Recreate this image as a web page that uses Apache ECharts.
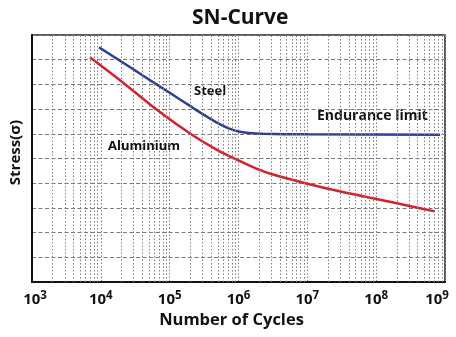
<!DOCTYPE html>
<html>
<head>
<meta charset="utf-8">
<script src="https://cdn.jsdelivr.net/npm/echarts@6/dist/echarts.min.js"></script>
<style>html,body{margin:0;padding:0;background:#fff}#c{width:456px;height:337px}</style>
</head>
<body>
<div id="c"></div>
<script>
// ---- data ----
const steelCycles = [9400, 20000, 50000, 100000, 200000, 238000, 355000, 500000, 708000, 1000000, 1410000, 2240000, 10000000, 850000000];
const steelStress = [9.50, 8.92, 8.20, 7.66, 7.12, 6.98, 6.68, 6.43, 6.23, 6.09, 6.03, 6.00, 5.98, 5.96];
const aluCycles = [6930, 20000, 63000, 200000, 500000, 1000000, 1780000, 3160000, 10000000, 31600000, 100000000, 316000000, 716000000];
const aluStress = [9.10, 8.12, 7.00, 6.00, 5.33, 4.92, 4.60, 4.35, 3.98, 3.65, 3.36, 3.07, 2.86];
const minorGridCycles = [];
[1e3, 1e4, 1e5, 1e6, 1e7, 1e8].forEach(function (d) { for (let k = 2; k <= 9; k++) minorGridCycles.push(k * d); });
const decadeExponents = [3, 4, 5, 6, 7, 8, 9];

const chart = echarts.init(document.getElementById('c'), null, {renderer: 'canvas'});
const FONT = '"Open Sans", "Noto Sans", sans-serif';
const BLUE = '#2f3f97';
const RED = '#d8202c';

chart.setOption({
  animation: false,
  title: {
    text: 'SN-Curve', left: 187, top: 3,
    textStyle: {fontFamily: FONT, fontWeight: 'bold', fontSize: 21, color: '#111'}
  },
  grid: {left: 31, right: 11, top: 35, bottom: 55, show: true, borderColor: '#222', borderWidth: 1.5},
  xAxis: {
    type: 'log', logBase: 10, min: 1000, max: 1e9, interval: 1,
    name: 'Number of Cycles', nameLocation: 'middle', nameGap: 27,
    nameTextStyle: {fontFamily: FONT, fontWeight: 'bold', fontSize: 16.5, color: '#111', padding: [0, 14, 0, 0]},
    axisLine: {lineStyle: {color: '#111', width: 2}},
    axisTick: {show: false},
    splitLine: {show: true, lineStyle: {type: [1.5, 2], color: '#808080', width: 1}},
    axisLabel: {
      margin: 8,
      formatter: function (v) {
        const e = Math.round(Math.log10(v));
        if (e === decadeExponents[0]) return '{al|10}{sl|' + e + '}';
        if (e === decadeExponents[decadeExponents.length - 1]) return '{ar|10}{sr|' + e + '}';
        return '{a|10}{s|' + e + '}';
      },
      rich: {
        a: {fontFamily: FONT, fontWeight: 'bold', fontSize: 15, color: '#111'},
        s: {fontFamily: FONT, fontWeight: 'bold', fontSize: 11.5, color: '#111', padding: [0, 0, 7, 0]},
        al: {fontFamily: FONT, fontWeight: 'bold', fontSize: 15, color: '#111', padding: [0, 0, 0, 6]},
        sl: {fontFamily: FONT, fontWeight: 'bold', fontSize: 11.5, color: '#111', padding: [0, 0, 7, 0]},
        ar: {fontFamily: FONT, fontWeight: 'bold', fontSize: 15, color: '#111'},
        sr: {fontFamily: FONT, fontWeight: 'bold', fontSize: 11.5, color: '#111', padding: [0, 16, 7, 0]}
      }
    }
  },
  yAxis: {
    type: 'value', min: 0, max: 10, interval: 1,
    name: 'Stress(σ)', nameLocation: 'middle', nameGap: 9, nameRotate: 90,
    nameTextStyle: {fontFamily: FONT, fontWeight: 'bold', fontSize: 15, color: '#111', padding: [0, 0, 0, 12]},
    axisLine: {show: true, lineStyle: {color: '#111', width: 2}},
    axisTick: {show: false},
    axisLabel: {show: false},
    splitLine: {show: true, lineStyle: {type: [4, 2.5], color: '#7a7a7a', width: 1}}
  },
  graphic: [
    {type: 'text', left: 194, top: 85, style: {text: 'Steel', fontFamily: FONT, fontWeight: 'bold', fontSize: 13, fill: '#111'}},
    {type: 'text', left: 108, top: 140, style: {text: 'Aluminium', fontFamily: FONT, fontWeight: 'bold', fontSize: 13, fill: '#111'}},
    {type: 'text', left: 317, top: 109, style: {text: 'Endurance limit', fontFamily: FONT, fontWeight: 'bold', fontSize: 14, fill: '#111'}}
  ],
  series: [
    {
      type: 'line', name: 'grid', silent: true, data: [],
      markLine: {
        silent: true, symbol: ['none', 'none'], label: {show: false},
        lineStyle: {type: [1.5, 2], color: '#808080', width: 1},
        emphasis: {disabled: true},
        data: minorGridCycles.map(function (n) { return {xAxis: n}; })
      }
    },
    {
      type: 'line', name: 'Aluminium', smooth: 0.3, showSymbol: false,
      data: aluCycles.map(function (n, i) { return [n, aluStress[i]]; }),
      lineStyle: {color: RED, width: 2.5}, itemStyle: {color: RED}
    },
    {
      type: 'line', name: 'Steel', smooth: 0.3, showSymbol: false,
      data: steelCycles.map(function (n, i) { return [n, steelStress[i]]; }),
      lineStyle: {color: BLUE, width: 2.5}, itemStyle: {color: BLUE}
    }
  ]
});
</script>
</body>
</html>
